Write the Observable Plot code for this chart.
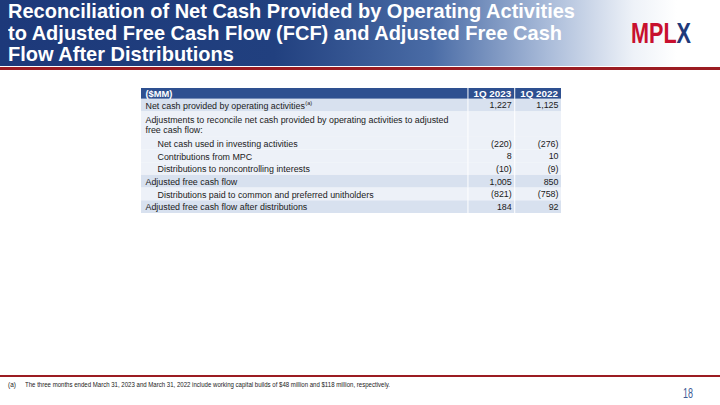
<!DOCTYPE html>
<html><head><meta charset="utf-8">
<script src="https://cdn.jsdelivr.net/npm/d3@7"></script>
<script src="https://cdn.jsdelivr.net/npm/@observablehq/plot@0.6"></script>
<style>
html,body{margin:0;padding:0;background:#fff;}
#slide{position:relative;width:720px;height:405px;overflow:hidden;font-family:"Liberation Sans",Arial,sans-serif;}
#band{position:absolute;left:0;top:0;width:720px;height:66px;background:linear-gradient(to right,#1d397a 0%,#21407f 38%,#4a6ca6 60%,#a9bbd9 76%,#eef2f8 88%,#ffffff 94%);}
#title{position:absolute;left:8px;top:0px;color:#fff;font-family:"Liberation Sans",Arial,sans-serif;font-weight:bold;font-size:21px;line-height:21.5px;white-space:nowrap;transform-origin:0 0;}
#title div{display:block;width:max-content;}
#redtop{position:absolute;left:0;top:67px;width:720px;height:3px;background:#9b1c22;}
#redbot{position:absolute;left:0;top:375px;width:720px;height:2px;background:#9b1c22;}
#logo{position:absolute;left:631px;top:17px;font-family:"Liberation Sans",Arial,sans-serif;font-weight:bold;font-size:29px;white-space:nowrap;transform-origin:0 0;}
#foot{position:absolute;left:8px;top:381px;font-family:"Liberation Sans",Arial,sans-serif;font-size:6.4px;color:#222;white-space:nowrap;}
#foot span.t{position:absolute;left:17px;top:0;transform-origin:0 0;width:max-content;}
#page{position:absolute;left:683px;top:385px;font-family:"Liberation Sans",Arial,sans-serif;font-size:14px;color:#3d5b95;transform-origin:0 0;}
#chart{position:absolute;left:0;top:0;}
</style>
</head><body>
<div id="slide">
  <div id="band"></div>
  <div id="title"><div id="t1">Reconciliation of Net Cash Provided by Operating Activities</div><div>to Adjusted Free Cash Flow (FCF) and Adjusted Free Cash</div><div>Flow After Distributions</div></div>
  <div id="redtop"></div>
  <div id="logo"><span style="color:#c8102e">MPL</span><span style="color:#1f3a7a">X</span></div>
  <div id="redbot"></div>
  <div id="foot"><span>(a)</span><span class="t" id="ft">The three months ended March 31, 2023 and March 31, 2022 include working capital builds of $48 million and $118 million, respectively.</span></div>
  <div id="page">18</div>
  <div id="chart"></div>
</div>
<script>
// ---- data ----
const headerLabels = ["($MM)", "1Q 2023", "1Q 2022"];
const rowLabels = [
  "Net cash provided by operating activities",
  "Adjustments to reconcile net cash provided by operating activities to adjusted\nfree cash flow:",
  "Net cash used in investing activities",
  "Contributions from MPC",
  "Distributions to noncontrolling interests",
  "Adjusted free cash flow",
  "Distributions paid to common and preferred unitholders",
  "Adjusted free cash flow after distributions"
];
const rowNotes = ["(a)", "", "", "", "", "", "", ""];
const rowIndent = [0, 0, 1, 1, 1, 0, 1, 0];
const rowHighlight = [true, false, false, false, false, true, false, true];
const values2023 = [1227, null, -220, 8, -10, 1005, -821, 184];
const values2022 = [1125, null, -276, 10, -9, 850, -758, 92];

// ---- layout helpers ----
const headerH = 0.85;
const colStart = [0, 7, 8];
const colEnd = [7, 8, 9];
const fmt = v => v == null ? "" : (v < 0 ? "(" + d3.format(",")(-v) + ")" : d3.format(",")(v));
const fontSize = 8.9;
const fontFam = "'Liberation Sans', Arial, sans-serif";
const ctx = document.createElement("canvas").getContext("2d");
ctx.font = fontSize + "px " + fontFam;

let acc = headerH;
const rows = rowLabels.map((label, i) => {
  const lines = label.split("\n").length;
  const r = {i, label, note: rowNotes[i], level: rowIndent[i], hl: rowHighlight[i], y0: acc, y1: acc + lines,
             v1: fmt(values2023[i]), v2: fmt(values2022[i])};
  acc += lines;
  return r;
});
const totalH = acc;

const headerCells = headerLabels.map((t, c) => ({t, c, x1: colStart[c], x2: colEnd[c]}));
const cells = rows.flatMap(r => [0, 1, 2].map(c => ({...r, x1: colStart[c], x2: colEnd[c]})));
const noteRow = rows.find(r => r.note);
const noteDx = 4 + ctx.measureText(noteRow.label).width + 0.5;

const txt = "#1b1b1b";

const chart = Plot.plot({
  width: 720, height: 405,
  marginLeft: 141, marginRight: 158, marginTop: 88, marginBottom: 192,
  x: {domain: [0, 9], axis: null},
  y: {domain: [0, totalH], reverse: true, axis: null},
  style: {background: "transparent", fontFamily: fontFam},
  marks: [
    Plot.rect(headerCells, {x1: "x1", x2: "x2", y1: 0, y2: headerH, fill: "#2e5090", insetRight: 1}),
    Plot.rect(cells, {x1: "x1", x2: "x2", y1: "y0", y2: "y1", fill: d => d.hl ? "#d8e1ef" : "#edf1f8", insetRight: 1}),
    Plot.text(headerCells.filter(d => d.c === 0), {x: "x1", y: headerH / 2, text: "t", textAnchor: "start", dx: 4, fill: "white", fontWeight: "bold", fontSize: 9.3}),
    Plot.text(headerCells.filter(d => d.c > 0), {x: d => (d.x1 + d.x2) / 2, y: headerH / 2, text: "t", fill: "white", fontWeight: "bold", fontSize: 9.8}),
    Plot.text(rows.filter(d => d.level === 0), {x: 0, y: d => (d.y0 + d.y1) / 2, text: "label", textAnchor: "start", dx: 4, fill: txt, fontSize, lineHeight: 1.15}),
    Plot.text(rows.filter(d => d.level === 1), {x: 0, y: d => (d.y0 + d.y1) / 2, text: "label", textAnchor: "start", dx: 16, fill: txt, fontSize, lineHeight: 1.15}),
    Plot.text([noteRow], {x: 0, y: d => (d.y0 + d.y1) / 2, text: "note", textAnchor: "start", dx: noteDx, dy: -2.5, fill: txt, fontSize: 5.5}),
    Plot.text(rows, {x: colEnd[1], y: d => (d.y0 + d.y1) / 2, text: "v1", textAnchor: "end", dx: -4, fill: txt, fontSize}),
    Plot.text(rows, {x: colEnd[2], y: d => (d.y0 + d.y1) / 2, text: "v2", textAnchor: "end", dx: -4, fill: txt, fontSize})
  ]
});
document.getElementById("chart").appendChild(chart);

// fit condensed-looking texts to the reference widths
function fitX(el, w) { const cur = el.getBoundingClientRect().width; if (cur > 0) el.style.transform = "scaleX(" + (w / cur) + ")"; }
fitX(document.getElementById("t1"), 567);
document.getElementById("title").style.transform = document.getElementById("t1").style.transform;
document.getElementById("t1").style.transform = "";
fitX(document.getElementById("ft"), 365);
fitX(document.getElementById("logo"), 60);
fitX(document.getElementById("page"), 10);
</script>
</body></html>
